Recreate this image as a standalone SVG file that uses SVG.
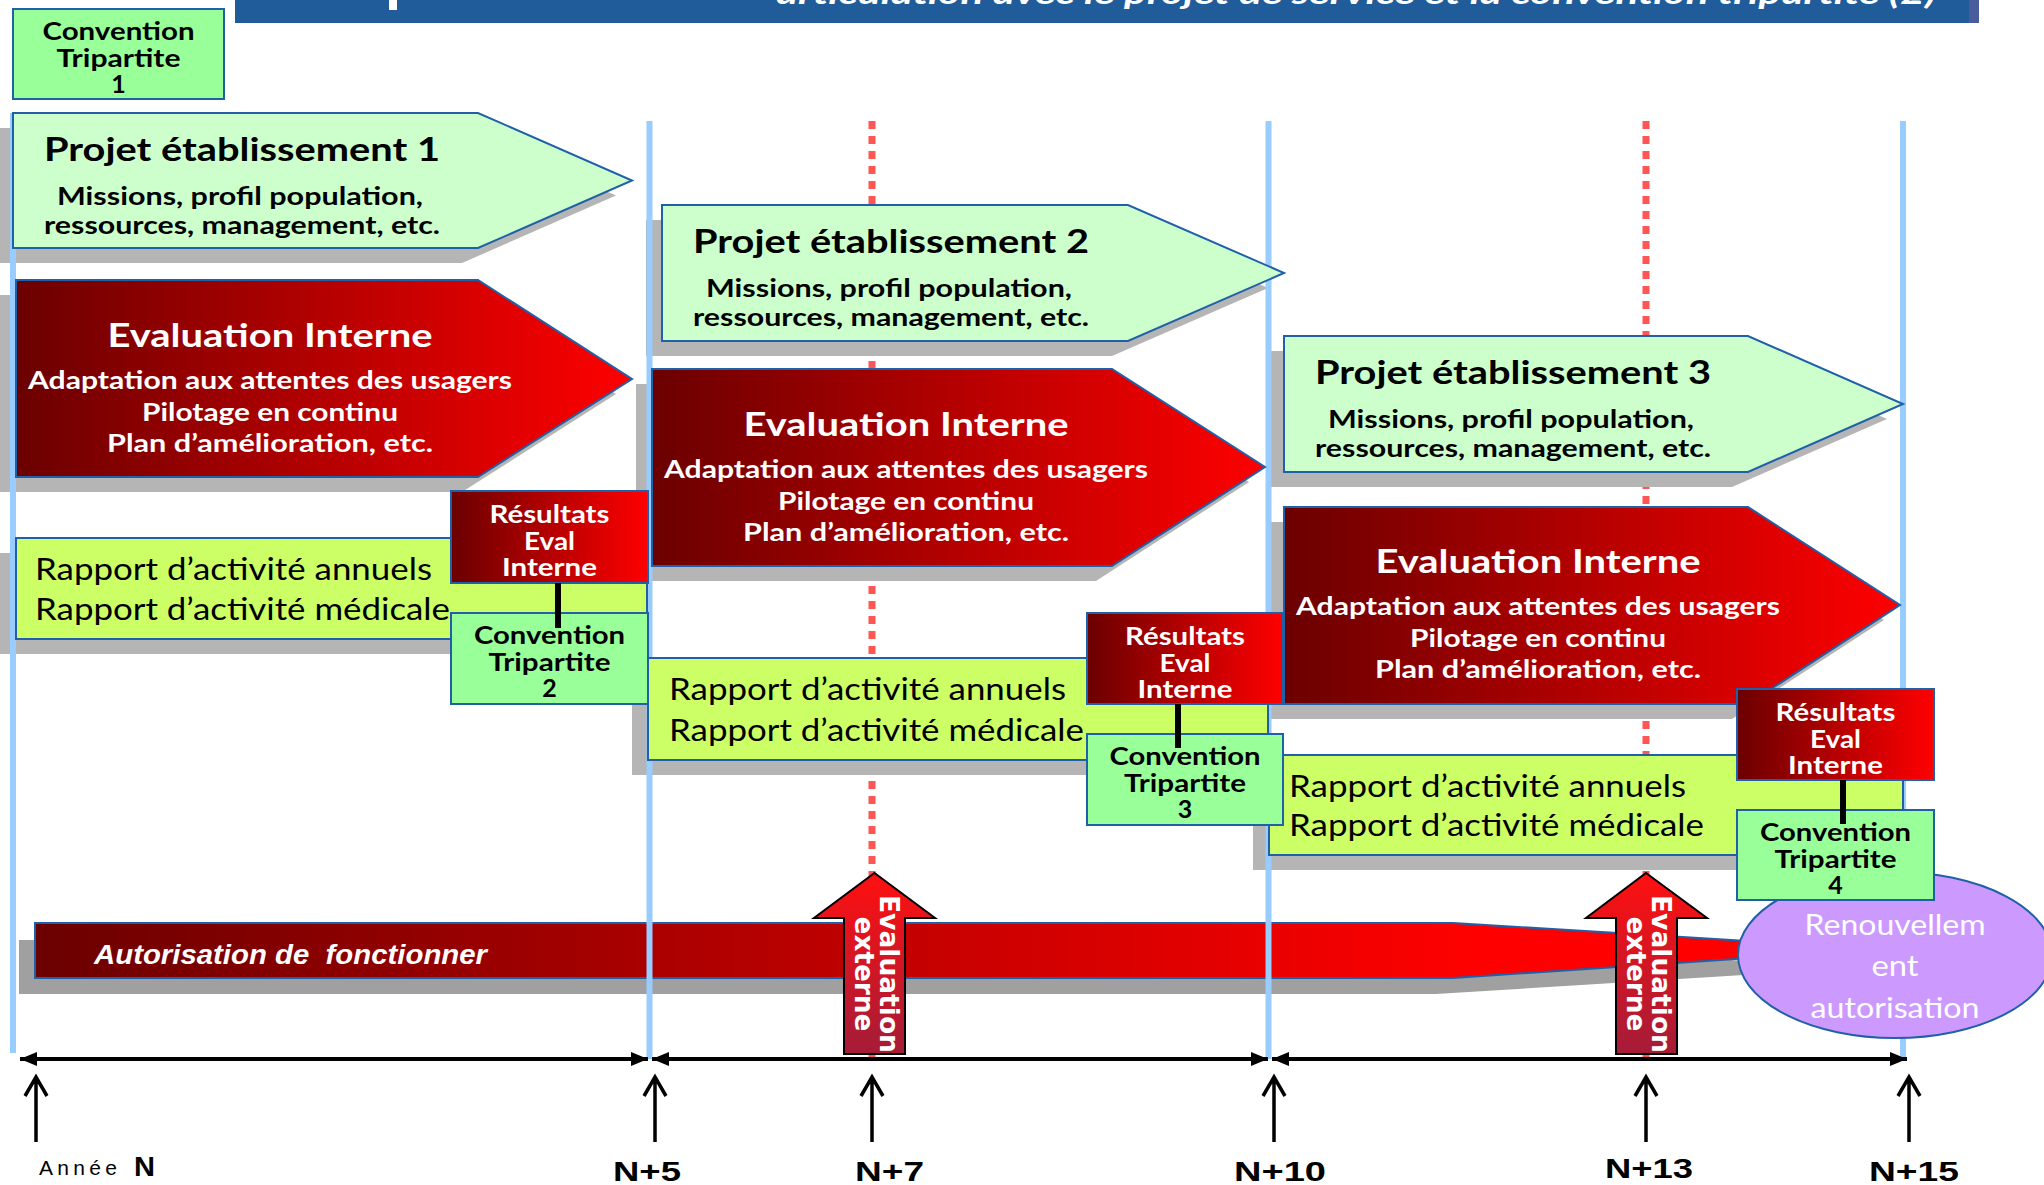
<svg xmlns="http://www.w3.org/2000/svg" xmlns:xlink="http://www.w3.org/1999/xlink" width="2044" height="1185" viewBox="0 0 2044 1185">
<style>
  .f { font-family: Lato, "Open Sans", "Liberation Sans", sans-serif; }
  .pt { font-weight: bold; font-size: 33px; fill: #000; text-anchor: middle; }
  .ps { font-weight: bold; font-size: 25px; fill: #000; text-anchor: middle; }
  .et { font-weight: bold; font-size: 32px; fill: #fff; text-anchor: middle; }
  .es { font-weight: bold; font-size: 24px; fill: #fff; text-anchor: middle; }
  .rt { font-size: 30px; fill: #000; }
  .rs { font-weight: bold; font-size: 25px; fill: #fff; text-anchor: middle; }
  .cv { font-weight: bold; font-size: 25px; fill: #000; text-anchor: middle; }
  .proj { fill: #ccffcc; stroke: #2060a8; stroke-width: 2; }
  .eval { fill: url(#gRed); stroke: #2060a8; stroke-width: 2; }
  .rapp { fill: #ccff66; stroke: #2060a8; stroke-width: 2; }
  .res { fill: url(#gRed); stroke: #2060a8; stroke-width: 2; }
  .conv { fill: #99ff99; stroke: #2060a8; stroke-width: 2; }
  .shadow { fill: #b5b5b5; }
  .blue { stroke: #99ccff; stroke-width: 6; fill: none; }
  .dash { stroke: #ff5555; stroke-width: 7; stroke-dasharray: 8 7; fill: none; }
  .ext { fill: url(#gArrow); stroke: #000; stroke-width: 2; }
  .extt { font-family: "DejaVu Sans", sans-serif; font-weight: bold; font-size: 26px; fill: #fff; text-anchor: middle; }
  .tl { stroke: #000; stroke-width: 4; fill: none; }
  .up { stroke: #000; stroke-width: 3.5; fill: none; }
  .lab { font-family: "Liberation Sans", Arial, sans-serif; font-weight: bold; font-size: 27px; fill: #000; }
</style>
<defs>
  <linearGradient id="gRed" x1="0" y1="0" x2="1" y2="0">
    <stop offset="0" stop-color="#6b0000"/>
    <stop offset="1" stop-color="#ff0000"/>
  </linearGradient>
  <linearGradient id="gBar" gradientUnits="userSpaceOnUse" x1="35" y1="0" x2="1480" y2="0">
    <stop offset="0" stop-color="#6b0000"/>
    <stop offset="1" stop-color="#ff0000"/>
  </linearGradient>
  <linearGradient id="gArrow" x1="0" y1="0" x2="0" y2="1">
    <stop offset="0" stop-color="#ff1010"/>
    <stop offset="1" stop-color="#a51c38"/>
  </linearGradient>
  <marker id="ah" viewBox="0 0 17 14" refX="17" refY="7" markerWidth="17" markerHeight="14" markerUnits="userSpaceOnUse" orient="auto-start-reverse">
    <path d="M0,0 L17,7 L0,14 z" fill="#000"/>
  </marker>
  <path id="upArrow" class="up" d="M0,65 V1 M-11,19 L0,0 L11,19"/>
</defs>

<!-- title banner -->
<g id="banner">
  <rect x="235" y="0" width="1744" height="23" fill="#1f5c99"/>
  <rect x="1969" y="0" width="10" height="23" fill="#4b5c9c"/>
  <rect x="389" y="0" width="8" height="10" fill="#ffffff"/>
  <text class="f" x="776" y="4" font-size="30" font-weight="bold" font-style="italic" fill="#fff" textLength="1160" lengthAdjust="spacingAndGlyphs">articulation avec le projet de service et la convention tripartite (2)</text>
</g>

<!-- dashed guides -->
<g id="guides-dashed">
  <line class="dash" x1="872" y1="121" x2="872" y2="1059"/>
  <line class="dash" x1="1646" y1="121" x2="1646" y2="1059"/>
</g>

<!-- shadows -->
<g id="shadows">
  <g transform="translate(-16,15)">
    <polygon class="shadow" points="13,113 478,113 632,180.5 478,248 13,248"/>
    <polygon class="shadow" points="662,205 1128,205 1284,273 1128,341 662,341"/>
    <polygon class="shadow" points="1284,336 1748,336 1903,404 1748,472 1284,472"/>
    <polygon class="shadow" points="16,280 478,280 632,379 478,477 16,477"/>
    <polygon class="shadow" points="652,369 1112,369 1265,467 1112,566 652,566"/>
    <polygon class="shadow" points="1284,507 1748,507 1900,605 1748,704 1284,704"/>
    <rect class="shadow" x="16" y="538" width="631" height="101"/>
    <rect class="shadow" x="648" y="658" width="620" height="102"/>
    <rect class="shadow" x="1269" y="755" width="634" height="100"/>
  </g>
  <polygon fill="#a0a0a0" points="19,940 1436,940 1760,962 1760,974 1436,994 19,994"/>
</g>

<!-- autorisation bar -->
<g id="autorisation">
  <polygon fill="url(#gBar)" stroke="#2060a8" stroke-width="2" points="35,923 1453,923 1780,943 1780,956 1453,978 35,978"/>
  <text x="94" y="964" xml:space="preserve" font-family="'Liberation Sans', Arial, sans-serif" font-size="27" font-weight="bold" font-style="italic" fill="#fff" textLength="393" lengthAdjust="spacingAndGlyphs">Autorisation de  fonctionner</text>
</g>

<!-- blue year guides -->
<g id="guides-blue">
  <line class="blue" x1="13" y1="113" x2="13" y2="1053"/>
  <line class="blue" x1="649.5" y1="121" x2="649.5" y2="1059"/>
  <line class="blue" x1="1268.5" y1="121" x2="1268.5" y2="1059"/>
  <line class="blue" x1="1903" y1="121" x2="1903" y2="1059"/>
</g>

<!-- Projet établissement -->
<g id="projet1" class="f">
  <polygon class="proj" points="13,113 478,113 632,180.5 478,248 13,248"/>
  <text class="pt" x="242" y="161" textLength="396" lengthAdjust="spacingAndGlyphs">Projet établissement 1</text>
  <text class="ps" x="240" y="205" textLength="366" lengthAdjust="spacingAndGlyphs">Missions, profil population,</text>
  <text class="ps" x="242" y="234" textLength="396" lengthAdjust="spacingAndGlyphs">ressources, management, etc.</text>
</g>
<g id="projet2" class="f">
  <polygon class="proj" points="662,205 1128,205 1284,273 1128,341 662,341"/>
  <text class="pt" x="891" y="253" textLength="396" lengthAdjust="spacingAndGlyphs">Projet établissement 2</text>
  <text class="ps" x="889" y="297" textLength="366" lengthAdjust="spacingAndGlyphs">Missions, profil population,</text>
  <text class="ps" x="891" y="326" textLength="396" lengthAdjust="spacingAndGlyphs">ressources, management, etc.</text>
</g>
<g id="projet3" class="f">
  <polygon class="proj" points="1284,336 1748,336 1903,404 1748,472 1284,472"/>
  <text class="pt" x="1513" y="384" textLength="396" lengthAdjust="spacingAndGlyphs">Projet établissement 3</text>
  <text class="ps" x="1511" y="428" textLength="366" lengthAdjust="spacingAndGlyphs">Missions, profil population,</text>
  <text class="ps" x="1513" y="457" textLength="396" lengthAdjust="spacingAndGlyphs">ressources, management, etc.</text>
</g>

<!-- Evaluation interne -->
<g id="eval1" class="f">
  <polygon class="eval" points="16,280 478,280 632,379 478,477 16,477"/>
  <text class="et" x="270" y="347" textLength="325" lengthAdjust="spacingAndGlyphs">Evaluation Interne</text>
  <text class="es" x="270" y="389" textLength="484" lengthAdjust="spacingAndGlyphs">Adaptation aux attentes des usagers</text>
  <text class="es" x="270" y="421" textLength="256" lengthAdjust="spacingAndGlyphs">Pilotage en continu</text>
  <text class="es" x="270" y="452" textLength="326" lengthAdjust="spacingAndGlyphs">Plan d’amélioration, etc.</text>
</g>
<g id="eval2" class="f">
  <polygon class="eval" points="652,369 1112,369 1265,467 1112,566 652,566"/>
  <text class="et" x="906" y="436" textLength="325" lengthAdjust="spacingAndGlyphs">Evaluation Interne</text>
  <text class="es" x="906" y="478" textLength="484" lengthAdjust="spacingAndGlyphs">Adaptation aux attentes des usagers</text>
  <text class="es" x="906" y="510" textLength="256" lengthAdjust="spacingAndGlyphs">Pilotage en continu</text>
  <text class="es" x="906" y="541" textLength="326" lengthAdjust="spacingAndGlyphs">Plan d’amélioration, etc.</text>
</g>
<g id="eval3" class="f">
  <polygon class="eval" points="1284,507 1748,507 1900,605 1748,704 1284,704"/>
  <text class="et" x="1538" y="573" textLength="325" lengthAdjust="spacingAndGlyphs">Evaluation Interne</text>
  <text class="es" x="1538" y="615" textLength="484" lengthAdjust="spacingAndGlyphs">Adaptation aux attentes des usagers</text>
  <text class="es" x="1538" y="647" textLength="256" lengthAdjust="spacingAndGlyphs">Pilotage en continu</text>
  <text class="es" x="1538" y="678" textLength="326" lengthAdjust="spacingAndGlyphs">Plan d’amélioration, etc.</text>
</g>

<!-- Rapports -->
<g id="rapport1" class="f">
  <rect class="rapp" x="16" y="538" width="631" height="101"/>
  <text class="rt" x="35" y="580" textLength="397" lengthAdjust="spacingAndGlyphs">Rapport d’activité annuels</text>
  <text class="rt" x="35" y="620" textLength="415" lengthAdjust="spacingAndGlyphs">Rapport d’activité médicale</text>
</g>
<g id="rapport2" class="f">
  <rect class="rapp" x="648" y="658" width="620" height="102"/>
  <text class="rt" x="669" y="700" textLength="397" lengthAdjust="spacingAndGlyphs">Rapport d’activité annuels</text>
  <text class="rt" x="669" y="741" textLength="415" lengthAdjust="spacingAndGlyphs">Rapport d’activité médicale</text>
</g>
<g id="rapport3" class="f">
  <rect class="rapp" x="1269" y="755" width="634" height="100"/>
  <text class="rt" x="1289" y="797" textLength="397" lengthAdjust="spacingAndGlyphs">Rapport d’activité annuels</text>
  <text class="rt" x="1289" y="836" textLength="415" lengthAdjust="spacingAndGlyphs">Rapport d’activité médicale</text>
</g>

<!-- Convention tripartite 1 -->
<g id="convention1" class="f">
  <rect class="conv" x="13" y="9" width="211" height="90"/>
  <text class="cv" x="118.5" y="40" textLength="152" lengthAdjust="spacingAndGlyphs">Convention</text>
  <text class="cv" x="118.5" y="67" textLength="124" lengthAdjust="spacingAndGlyphs">Tripartite</text>
  <text class="cv" x="118.5" y="93">1</text>
</g>

<!-- Résultats + Conventions -->
<g id="resultats1" class="f">
  <rect class="res" x="451" y="491" width="197" height="92"/>
  <text class="rs" x="549.5" y="523" textLength="120" lengthAdjust="spacingAndGlyphs">Résultats</text>
  <text class="rs" x="549.5" y="550" textLength="51" lengthAdjust="spacingAndGlyphs">Eval</text>
  <text class="rs" x="549.5" y="576" textLength="95" lengthAdjust="spacingAndGlyphs">Interne</text>
</g>
<g id="convention2" class="f">
  <rect class="conv" x="451" y="613" width="197" height="91"/>
  <text class="cv" x="549.5" y="644" textLength="151" lengthAdjust="spacingAndGlyphs">Convention</text>
  <text class="cv" x="549.5" y="671" textLength="122" lengthAdjust="spacingAndGlyphs">Tripartite</text>
  <text class="cv" x="549.5" y="697">2</text>
</g>
<g id="resultats2" class="f">
  <rect class="res" x="1087" y="613" width="196" height="91"/>
  <text class="rs" x="1185" y="645" textLength="120" lengthAdjust="spacingAndGlyphs">Résultats</text>
  <text class="rs" x="1185" y="672" textLength="51" lengthAdjust="spacingAndGlyphs">Eval</text>
  <text class="rs" x="1185" y="698" textLength="95" lengthAdjust="spacingAndGlyphs">Interne</text>
</g>
<g id="convention3" class="f">
  <rect class="conv" x="1087" y="734" width="196" height="91"/>
  <text class="cv" x="1185" y="765" textLength="151" lengthAdjust="spacingAndGlyphs">Convention</text>
  <text class="cv" x="1185" y="792" textLength="122" lengthAdjust="spacingAndGlyphs">Tripartite</text>
  <text class="cv" x="1185" y="818">3</text>
</g>

<!-- Renouvellement -->
<g id="renouvellement" class="f">
  <ellipse cx="1895" cy="955" rx="157" ry="83" fill="#cc99ff" stroke="#2060a8" stroke-width="2"/>
  <text x="1895" y="935" font-size="29" fill="#fff" text-anchor="middle" textLength="181" lengthAdjust="spacingAndGlyphs">Renouvellem</text>
  <text x="1895" y="976" font-size="29" fill="#fff" text-anchor="middle" textLength="47" lengthAdjust="spacingAndGlyphs">ent</text>
  <text x="1895" y="1018" font-size="29" fill="#fff" text-anchor="middle" textLength="169" lengthAdjust="spacingAndGlyphs">autorisation</text>
</g>

<g id="resultats3" class="f">
  <rect class="res" x="1737" y="689" width="197" height="91"/>
  <text class="rs" x="1835.5" y="721" textLength="120" lengthAdjust="spacingAndGlyphs">Résultats</text>
  <text class="rs" x="1835.5" y="748" textLength="51" lengthAdjust="spacingAndGlyphs">Eval</text>
  <text class="rs" x="1835.5" y="774" textLength="95" lengthAdjust="spacingAndGlyphs">Interne</text>
</g>
<g id="convention4" class="f">
  <rect class="conv" x="1737" y="810" width="197" height="90"/>
  <text class="cv" x="1835.5" y="841" textLength="151" lengthAdjust="spacingAndGlyphs">Convention</text>
  <text class="cv" x="1835.5" y="868" textLength="122" lengthAdjust="spacingAndGlyphs">Tripartite</text>
  <text class="cv" x="1835.5" y="894">4</text>
</g>

<!-- Evaluation externe arrows -->
<g id="evalExterne1">
  <polygon class="ext" points="874.5,873 935,918 905,918 905,1054 844,1054 844,918 814,918"/>
  <text class="extt" transform="translate(880,974) rotate(90)" x="0" y="0" textLength="158" lengthAdjust="spacingAndGlyphs">Evaluation</text>
  <text class="extt" transform="translate(855,974) rotate(90)" x="0" y="0" textLength="115" lengthAdjust="spacingAndGlyphs">externe</text>
</g>
<g id="evalExterne2">
  <polygon class="ext" points="1646,873 1707,918 1677,918 1677,1054 1616,1054 1616,918 1586,918"/>
  <text class="extt" transform="translate(1652,974) rotate(90)" x="0" y="0" textLength="158" lengthAdjust="spacingAndGlyphs">Evaluation</text>
  <text class="extt" transform="translate(1627,974) rotate(90)" x="0" y="0" textLength="115" lengthAdjust="spacingAndGlyphs">externe</text>
</g>

<!-- connectors -->
<g id="connectors">
  <line x1="558" y1="583" x2="558" y2="628" stroke="#000" stroke-width="6"/>
  <line x1="1178" y1="704" x2="1178" y2="748" stroke="#000" stroke-width="6"/>
  <line x1="1843" y1="780" x2="1843" y2="824" stroke="#000" stroke-width="6"/>
  <line class="tl" x1="20" y1="1059" x2="648" y2="1059" marker-start="url(#ah)" marker-end="url(#ah)"/>
  <line class="tl" x1="652" y1="1059" x2="1268" y2="1059" marker-start="url(#ah)" marker-end="url(#ah)"/>
  <line class="tl" x1="1272" y1="1059" x2="1907" y2="1059" marker-start="url(#ah)" marker-end="url(#ah)"/>
  <use xlink:href="#upArrow" x="36" y="1077"/>
  <use xlink:href="#upArrow" x="655" y="1077"/>
  <use xlink:href="#upArrow" x="872" y="1077"/>
  <use xlink:href="#upArrow" x="1274" y="1077"/>
  <use xlink:href="#upArrow" x="1646" y="1077"/>
  <use xlink:href="#upArrow" x="1909" y="1077"/>
</g>

<!-- year labels -->
<g id="labels">
  <text x="39" y="1175" font-family="'Liberation Sans', Arial, sans-serif" font-size="21" fill="#000" textLength="78" lengthAdjust="spacing">Année</text>
  <text class="lab" x="134" y="1176" font-size="25" textLength="21" lengthAdjust="spacingAndGlyphs">N</text>
  <text class="lab" x="613" y="1181" textLength="68" lengthAdjust="spacingAndGlyphs">N+5</text>
  <text class="lab" x="855" y="1181" textLength="69" lengthAdjust="spacingAndGlyphs">N+7</text>
  <text class="lab" x="1234" y="1181" textLength="92" lengthAdjust="spacingAndGlyphs">N+10</text>
  <text class="lab" x="1605" y="1178" textLength="88" lengthAdjust="spacingAndGlyphs">N+13</text>
  <text class="lab" x="1869" y="1181" textLength="90" lengthAdjust="spacingAndGlyphs">N+15</text>
</g>
</svg>
